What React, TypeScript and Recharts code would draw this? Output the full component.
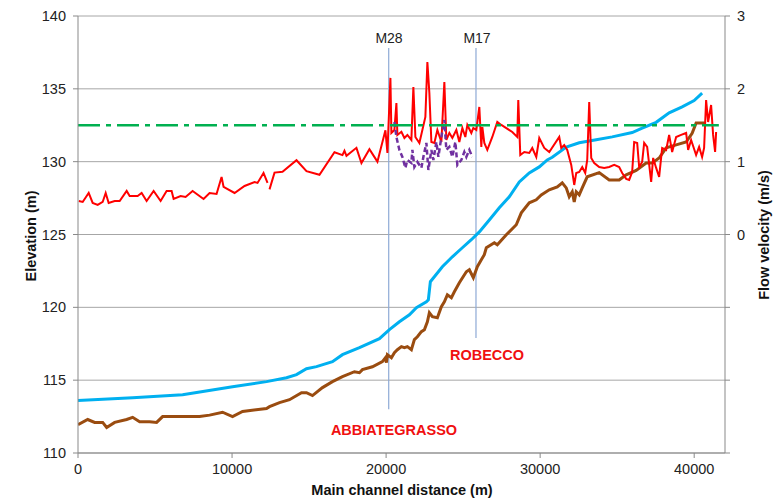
import { LineChart, Line, XAxis, YAxis, CartesianGrid, ReferenceLine } from "recharts";

const FONT = '"Liberation Sans", Arial, sans-serif';

const xTicks = [0, 10000, 20000, 30000, 40000];
const elevTicks = [110, 115, 120, 125, 130, 135, 140];
const velTicks = [-3, -2, -1, 0, 1, 2, 3];

// water surface elevation (m)
const waterSurface = [
  { d: 0, y: 113.6 }, { d: 3547, y: 113.8 }, { d: 6790, y: 114.0 }, { d: 10033, y: 114.55 },
  { d: 12238, y: 114.9 }, { d: 13535, y: 115.17 }, { d: 14184, y: 115.38 }, { d: 14832, y: 115.79 },
  { d: 15481, y: 115.93 }, { d: 16518, y: 116.27 }, { d: 17167, y: 116.75 }, { d: 18270, y: 117.23 },
  { d: 19567, y: 117.85 }, { d: 20215, y: 118.47 }, { d: 20863, y: 119.01 }, { d: 21512, y: 119.49 },
  { d: 21966, y: 119.97 }, { d: 22615, y: 120.38 }, { d: 22744, y: 120.52 }, { d: 22874, y: 121.76 },
  { d: 23133, y: 122.1 }, { d: 23652, y: 122.79 }, { d: 24301, y: 123.47 }, { d: 24950, y: 124.09 },
  { d: 25533, y: 124.64 }, { d: 26052, y: 125.18 }, { d: 26700, y: 126.0 }, { d: 27349, y: 126.83 },
  { d: 27997, y: 127.59 }, { d: 28646, y: 128.61 }, { d: 29294, y: 129.23 }, { d: 29943, y: 129.64 },
  { d: 30462, y: 130.12 }, { d: 30786, y: 130.3 }, { d: 31694, y: 131.0 }, { d: 32537, y: 131.3 },
  { d: 33640, y: 131.5 }, { d: 34677, y: 131.7 }, { d: 35974, y: 132.0 }, { d: 36623, y: 132.3 },
  { d: 37531, y: 132.7 }, { d: 38374, y: 133.35 }, { d: 39218, y: 133.76 }, { d: 39996, y: 134.2 },
  { d: 40515, y: 134.7 },
];

// channel bed elevation (m)
const channelBed = [
  { d: 0, y: 111.95 }, { d: 630, y: 112.3 }, { d: 1083, y: 112.1 }, { d: 1602, y: 112.1 },
  { d: 1861, y: 111.75 }, { d: 2380, y: 112.1 }, { d: 3158, y: 112.3 }, { d: 3547, y: 112.45 },
  { d: 4001, y: 112.15 }, { d: 4650, y: 112.15 }, { d: 5104, y: 112.1 }, { d: 5493, y: 112.5 },
  { d: 6790, y: 112.5 }, { d: 7893, y: 112.5 }, { d: 8541, y: 112.6 }, { d: 9384, y: 112.8 },
  { d: 10033, y: 112.5 }, { d: 10682, y: 112.85 }, { d: 12238, y: 113.05 }, { d: 12432, y: 113.18 },
  { d: 13081, y: 113.46 }, { d: 13730, y: 113.66 }, { d: 14508, y: 114.14 }, { d: 14832, y: 114.14 },
  { d: 15221, y: 113.94 }, { d: 15870, y: 114.49 }, { d: 16518, y: 114.9 }, { d: 17167, y: 115.24 },
  { d: 17945, y: 115.58 }, { d: 18270, y: 115.51 }, { d: 18464, y: 115.72 }, { d: 19113, y: 115.92 },
  { d: 19761, y: 116.27 }, { d: 19956, y: 116.54 }, { d: 20021, y: 116.2 }, { d: 20085, y: 116.75 },
  { d: 20344, y: 116.54 }, { d: 20539, y: 116.89 }, { d: 20733, y: 117.09 }, { d: 20993, y: 117.3 },
  { d: 21188, y: 117.23 }, { d: 21382, y: 117.3 }, { d: 21641, y: 117.09 }, { d: 21836, y: 117.78 },
  { d: 22031, y: 117.98 }, { d: 22290, y: 118.33 }, { d: 22485, y: 118.46 }, { d: 22680, y: 119.01 },
  { d: 22809, y: 119.63 }, { d: 23004, y: 119.36 }, { d: 23328, y: 119.29 }, { d: 23588, y: 120.04 },
  { d: 23782, y: 120.38 }, { d: 23977, y: 120.86 }, { d: 24237, y: 120.66 }, { d: 24431, y: 121.07 },
  { d: 24755, y: 121.69 }, { d: 25209, y: 122.44 }, { d: 25404, y: 122.58 }, { d: 25663, y: 122.03 },
  { d: 25922, y: 122.79 }, { d: 26182, y: 123.26 }, { d: 26376, y: 123.61 }, { d: 26506, y: 124.09 },
  { d: 27025, y: 124.43 }, { d: 27219, y: 124.29 }, { d: 27803, y: 124.98 }, { d: 28451, y: 125.67 },
  { d: 28776, y: 126.49 }, { d: 29294, y: 127.18 }, { d: 29748, y: 127.38 }, { d: 30073, y: 127.72 },
  { d: 30592, y: 128.07 }, { d: 31111, y: 128.27 }, { d: 31435, y: 128.55 }, { d: 31694, y: 128.2 },
  { d: 31889, y: 127.59 }, { d: 32084, y: 127.93 }, { d: 32213, y: 127.24 }, { d: 32343, y: 127.93 },
  { d: 32538, y: 127.72 }, { d: 32732, y: 128.2 }, { d: 33056, y: 128.96 }, { d: 33834, y: 129.25 },
  { d: 34483, y: 128.75 }, { d: 35131, y: 128.75 }, { d: 35585, y: 129.1 }, { d: 36234, y: 129.4 },
  { d: 36882, y: 129.9 }, { d: 37271, y: 129.9 }, { d: 37725, y: 130.25 }, { d: 38180, y: 130.95 },
  { d: 38828, y: 131.15 }, { d: 39477, y: 131.35 }, { d: 39866, y: 131.95 }, { d: 40125, y: 132.65 },
  { d: 40515, y: 132.65 }, { d: 40710, y: 132.65 },
];

// computed flow velocity (m/s)
const velocity = [
  { d: 50, v: 0.46 }, { d: 305, v: 0.447 }, { d: 694, v: 0.57 }, { d: 953, v: 0.433 },
  { d: 1278, v: 0.406 }, { d: 1602, v: 0.447 }, { d: 1797, v: 0.57 }, { d: 1991, v: 0.433 },
  { d: 2380, v: 0.46 }, { d: 2705, v: 0.46 }, { d: 3159, v: 0.598 }, { d: 3353, v: 0.529 },
  { d: 3872, v: 0.529 }, { d: 4131, v: 0.57 }, { d: 4455, v: 0.46 }, { d: 4909, v: 0.598 },
  { d: 5363, v: 0.46 }, { d: 5752, v: 0.598 }, { d: 6077, v: 0.598 }, { d: 6207, v: 0.488 },
  { d: 6661, v: 0.529 }, { d: 6985, v: 0.515 }, { d: 7439, v: 0.598 }, { d: 8152, v: 0.488 },
  { d: 8542, v: 0.57 }, { d: 8995, v: 0.557 }, { d: 9320, v: 0.79 }, { d: 9450, v: 0.653 },
  { d: 10163, v: 0.57 }, { d: 10812, v: 0.666 }, { d: 11460, v: 0.721 }, { d: 11655, v: 0.708 },
  { d: 12044, v: 0.845 }, { d: 12303, v: 0.71 }, { d: 12370, v: null },
  { d: 12432, v: 0.62 }, { d: 12757, v: 0.85 }, { d: 13276, v: 0.86 }, { d: 14184, v: 1.02 },
  { d: 14832, v: 0.87 }, { d: 15675, v: 0.82 }, { d: 16648, v: 1.13 }, { d: 17167, v: 1.09 },
  { d: 17297, v: 1.15 }, { d: 17427, v: 1.08 }, { d: 18075, v: 1.19 }, { d: 18400, v: 0.98 },
  { d: 18918, v: 1.17 }, { d: 19437, v: 1.0 }, { d: 19956, v: 1.43 }, { d: 20086, v: 1.12 },
  { d: 20280, v: 2.15 }, { d: 20344, v: 1.394 }, { d: 20539, v: 1.435 }, { d: 20669, v: 1.806 },
  { d: 20733, v: 1.367 }, { d: 20993, v: 1.41 }, { d: 21188, v: 1.325 }, { d: 21382, v: 1.367 },
  { d: 21641, v: 1.298 }, { d: 21771, v: 2.025 }, { d: 21901, v: 1.339 }, { d: 22161, v: 1.257 },
  { d: 22355, v: 1.435 }, { d: 22550, v: 1.614 }, { d: 22680, v: 2.369 }, { d: 22809, v: 1.943 },
  { d: 22939, v: 1.27 }, { d: 23134, v: 1.257 }, { d: 23328, v: 1.435 }, { d: 23588, v: 1.27 },
  { d: 23782, v: 2.094 }, { d: 23912, v: 1.298 }, { d: 24107, v: 1.394 }, { d: 24301, v: 1.325 },
  { d: 24561, v: 1.435 }, { d: 24755, v: 1.27 }, { d: 24950, v: 1.463 }, { d: 25144, v: 1.339 },
  { d: 25274, v: 1.504 }, { d: 25533, v: 1.394 }, { d: 25663, v: 1.463 }, { d: 25858, v: 1.435 },
  { d: 26052, v: 1.751 }, { d: 26182, v: 1.202 }, { d: 26247, v: 1.476 }, { d: 26376, v: 1.257 },
  { d: 26571, v: 1.161 }, { d: 26895, v: 1.339 }, { d: 27219, v: 1.545 }, { d: 27479, v: 1.504 },
  { d: 28192, v: 1.408 }, { d: 28516, v: 1.339 }, { d: 28581, v: 1.847 }, { d: 28711, v: 1.092 },
  { d: 28970, v: 1.133 }, { d: 29295, v: 1.12 }, { d: 29489, v: 1.188 }, { d: 29749, v: 1.065 },
  { d: 29943, v: 1.325 }, { d: 30267, v: 1.188 }, { d: 30592, v: 1.133 }, { d: 31240, v: 1.339 },
  { d: 31370, v: 1.188 }, { d: 31565, v: 1.229 }, { d: 31759, v: 1.161 }, { d: 32019, v: 0.955 },
  { d: 32213, v: 0.68 }, { d: 32343, v: 0.845 }, { d: 32538, v: 0.859 }, { d: 32732, v: 0.927 },
  { d: 32927, v: 0.845 }, { d: 33056, v: 1.023 }, { d: 33186, v: 1.82 }, { d: 33316, v: 1.05 },
  { d: 33510, v: 0.982 }, { d: 33835, v: 0.927 }, { d: 34159, v: 0.914 }, { d: 34483, v: 0.927 },
  { d: 34807, v: 0.955 }, { d: 35131, v: 0.927 }, { d: 35326, v: 0.845 }, { d: 35585, v: 0.763 },
  { d: 35780, v: 0.749 }, { d: 35974, v: 0.859 }, { d: 36104, v: 1.27 }, { d: 36299, v: 1.257 },
  { d: 36428, v: 0.927 }, { d: 36623, v: 0.996 }, { d: 36753, v: 1.257 }, { d: 36947, v: 1.202 },
  { d: 37207, v: 0.721 }, { d: 37336, v: 1.051 }, { d: 37531, v: 0.914 }, { d: 37726, v: 0.79 },
  { d: 37920, v: 1.188 }, { d: 38180, v: 1.161 }, { d: 38374, v: 1.367 }, { d: 38569, v: 1.133 },
  { d: 38828, v: 1.339 }, { d: 39153, v: 1.367 }, { d: 39477, v: 1.394 }, { d: 39607, v: 1.161 },
  { d: 39801, v: 1.298 }, { d: 40125, v: 1.092 }, { d: 40320, v: 1.202 }, { d: 40514, v: 1.065 },
  { d: 40644, v: 1.188 }, { d: 40774, v: 1.847 }, { d: 40904, v: 1.545 }, { d: 41098, v: 1.778 },
  { d: 41228, v: 1.367 }, { d: 41358, v: 1.133 }, { d: 41423, v: 1.408 },
];

// measured velocity between M28 and M17 (m/s)
const measuredVelocity = [
  { d: 20539, v: 1.545 }, { d: 20669, v: 1.339 }, { d: 20863, v: 1.161 }, { d: 21058, v: 1.065 },
  { d: 21253, v: 0.914 }, { d: 21382, v: 1.023 }, { d: 21641, v: 0.982 }, { d: 21706, v: 1.161 },
  { d: 21836, v: 0.927 }, { d: 22031, v: 0.996 }, { d: 22290, v: 0.914 }, { d: 22420, v: 1.065 },
  { d: 22615, v: 1.257 }, { d: 22744, v: 0.886 }, { d: 22939, v: 1.161 }, { d: 23069, v: 1.023 },
  { d: 23264, v: 1.27 }, { d: 23393, v: 1.065 }, { d: 23588, v: 1.339 }, { d: 23782, v: 1.572 },
  { d: 23912, v: 1.161 }, { d: 24107, v: 1.202 }, { d: 24301, v: 1.065 }, { d: 24496, v: 1.27 },
  { d: 24626, v: 0.955 }, { d: 24885, v: 1.023 }, { d: 25079, v: 1.133 }, { d: 25209, v: 1.065 },
  { d: 25404, v: 1.161 }, { d: 25598, v: 1.065 },
];

const thresholdVelocity = [{ d: 0, v: 1.5 }, { d: 41600, v: 1.5 }];

const sections = [
  { name: "M28", d: 20170, top: 137.8, bottom: 113.0, px: 389 },
  { name: "M17", d: 25835, top: 137.8, bottom: 117.9, px: 477 },
];

const axisColor = "#898989";
const tickStyle = { fontSize: 14.5, fill: "#222", fontFamily: FONT };

export default function App() {
  return (
    <div style={{ position: "fixed", left: 0, top: 0, width: 782, height: 501, background: "#fff", fontFamily: FONT }}>
      <LineChart width={782} height={501} margin={{ top: 16, right: 7, bottom: 18, left: 28 }}>
        <CartesianGrid yAxisId="left" horizontal vertical={false} stroke="#a6a6a6" />
        <XAxis
          dataKey="d"
          type="number"
          domain={[0, 42000]}
          ticks={xTicks}
          height={30}
          tickSize={5}
          tickMargin={6}
          stroke={axisColor}
          tick={tickStyle}
          allowDataOverflow
        />
        <YAxis
          yAxisId="left"
          domain={[110, 140]}
          ticks={elevTicks}
          width={50}
          tickSize={5}
          tickMargin={7}
          stroke={axisColor}
          tick={tickStyle}
        />
        <YAxis
          yAxisId="right"
          orientation="right"
          domain={[-3, 3]}
          ticks={velTicks}
          tickFormatter={(v: number) => (v >= 0 ? String(v) : "")}
          width={50}
          tickSize={5}
          tickMargin={7}
          stroke={axisColor}
          tick={{ ...tickStyle, textAnchor: "start" }}
        />
        {sections.map((s) => (
          <ReferenceLine
            key={s.name}
            yAxisId="left"
            segment={[{ x: s.d, y: s.top }, { x: s.d, y: s.bottom }]}
            stroke="#8eaad6"
            strokeWidth={1.2}
          />
        ))}
        <Line yAxisId="left" data={waterSurface} dataKey="y" stroke="#00b0f0" strokeWidth={3} dot={false} isAnimationActive={false} />
        <Line yAxisId="left" data={channelBed} dataKey="y" stroke="#9a4c10" strokeWidth={3} dot={false} isAnimationActive={false} />
        <Line yAxisId="right" data={velocity} dataKey="v" stroke="#ff0000" strokeWidth={2} dot={false} connectNulls={false} isAnimationActive={false} />
        <Line yAxisId="right" data={measuredVelocity} dataKey="v" stroke="#7030a0" strokeWidth={2.5} strokeDasharray="5 3" dot={false} isAnimationActive={false} />
        <Line yAxisId="right" data={thresholdVelocity} dataKey="v" stroke="#00b050" strokeWidth={2.5} strokeDasharray="22 6 5 6" dot={false} isAnimationActive={false} />
      </LineChart>

      {sections.map((s) => (
        <div key={s.name} style={{ position: "absolute", left: s.px, top: 38, transform: "translate(-50%, -50%)", fontSize: 14, color: "#222", whiteSpace: "nowrap" }}>
          {s.name}
        </div>
      ))}
      <div style={{ position: "absolute", left: 394, top: 430, transform: "translate(-50%, -50%)", fontSize: 14.5, fontWeight: "bold", color: "#f01010", whiteSpace: "nowrap" }}>
        ABBIATEGRASSO
      </div>
      <div style={{ position: "absolute", left: 487, top: 355, transform: "translate(-50%, -50%)", fontSize: 14.5, fontWeight: "bold", color: "#f01010", whiteSpace: "nowrap" }}>
        ROBECCO
      </div>
      <div style={{ position: "absolute", left: 402, top: 490, transform: "translate(-50%, -50%)", fontSize: 14.5, fontWeight: "bold", color: "#111", whiteSpace: "nowrap" }}>
        Main channel distance (m)
      </div>
      <div style={{ position: "absolute", left: 31, top: 236, transform: "translate(-50%, -50%) rotate(-90deg)", fontSize: 14.5, fontWeight: "bold", color: "#111", whiteSpace: "nowrap" }}>
        Elevation (m)
      </div>
      <div style={{ position: "absolute", left: 764, top: 235, transform: "translate(-50%, -50%) rotate(-90deg)", fontSize: 14.5, fontWeight: "bold", color: "#111", whiteSpace: "nowrap" }}>
        Flow velocity (m/s)
      </div>
    </div>
  );
}
